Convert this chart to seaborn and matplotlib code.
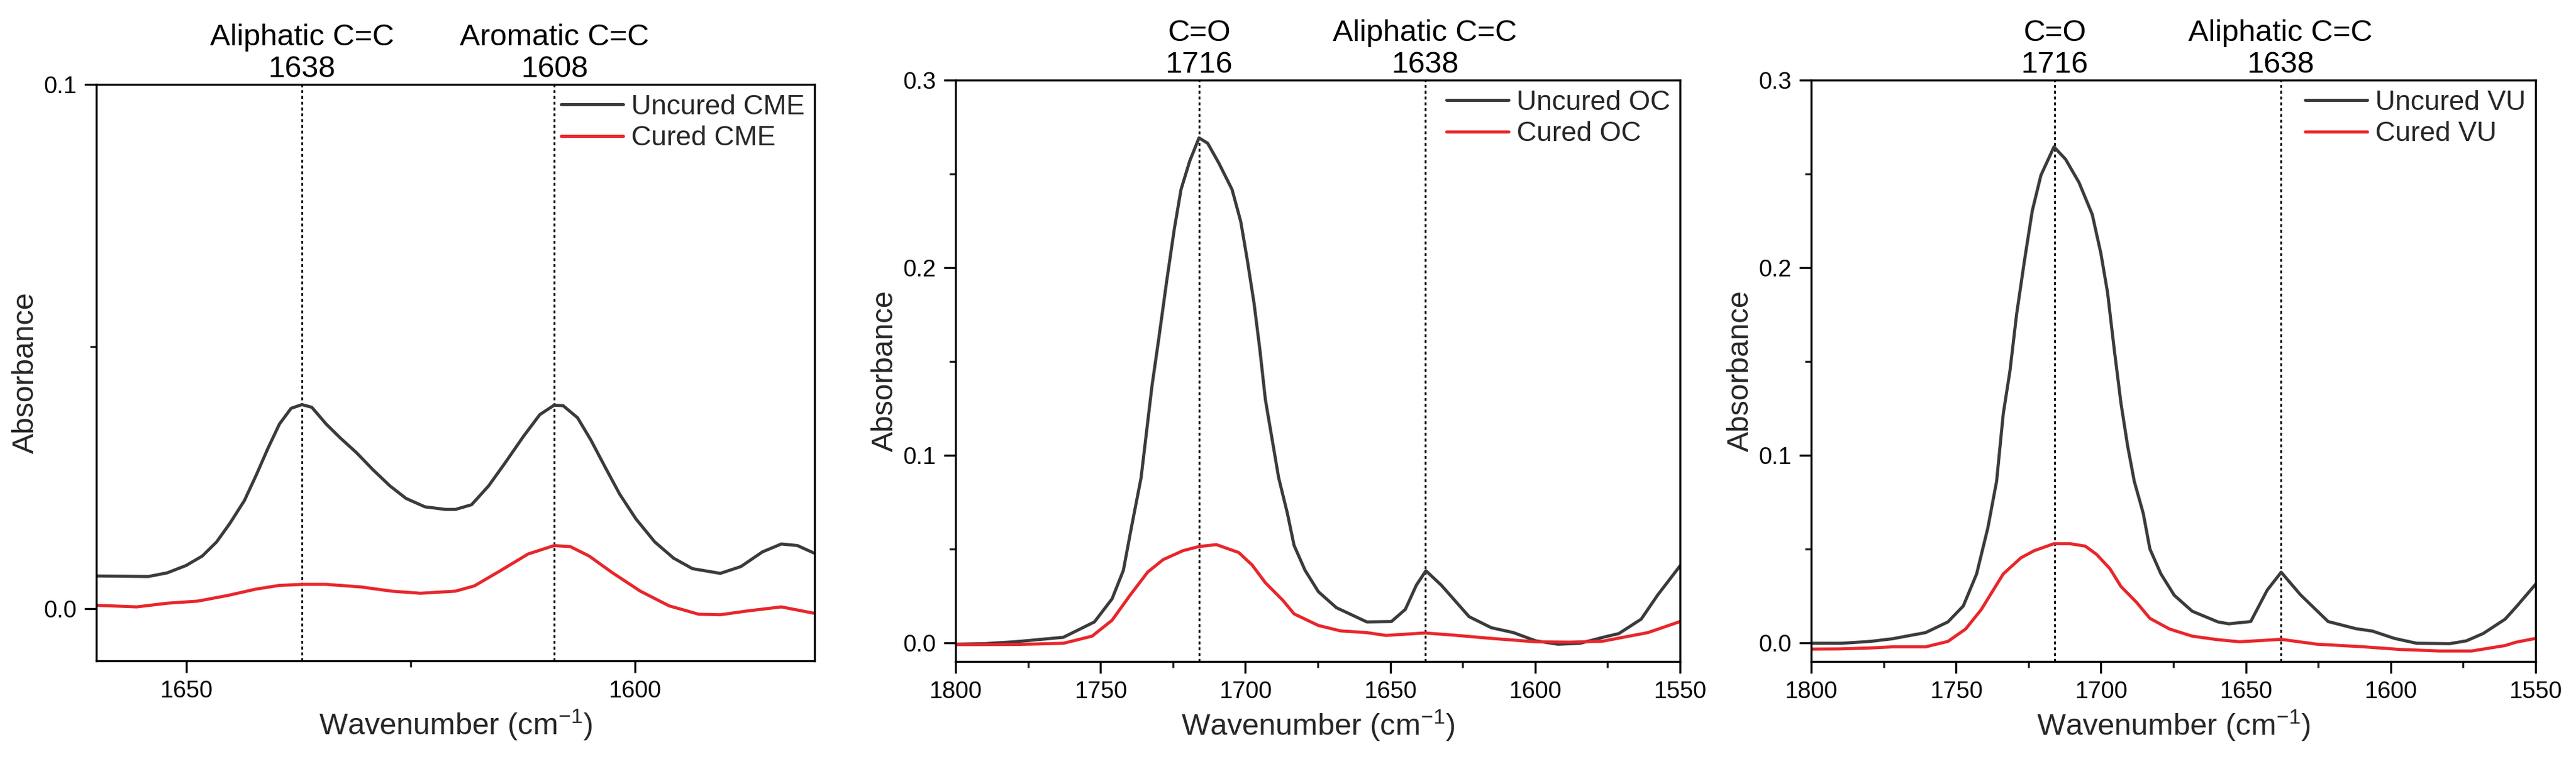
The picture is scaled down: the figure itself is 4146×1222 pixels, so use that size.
import numpy as np
import pandas as pd
import matplotlib
matplotlib.use("Agg")
import matplotlib.pyplot as plt
import seaborn as sns

# ---------------- data ----------------
# Panel 1 : CME
cme_wn_uncured = [1659.95, 1654.2, 1652.1, 1650.0, 1648.2, 1646.6, 1645.1, 1643.5, 1642.2, 1640.9,
                  1639.6, 1638.3, 1637.1, 1636.0, 1634.4, 1632.8, 1631.0, 1629.2, 1627.3, 1625.5,
                  1623.4, 1621.1, 1620.0, 1618.2, 1616.3, 1614.5, 1612.4, 1610.6, 1609.0, 1608.0,
                  1606.4, 1604.9, 1603.3, 1601.7, 1599.9, 1597.8, 1595.7, 1593.6, 1590.5, 1588.2,
                  1585.8, 1583.7, 1581.9, 1580.1]
cme_uncured = [0.0062, 0.0061, 0.0068, 0.0082, 0.0100, 0.0127, 0.0163, 0.0206, 0.0254, 0.0305,
               0.0352, 0.0382, 0.0389, 0.0384, 0.0352, 0.0325, 0.0297, 0.0265, 0.0234, 0.0210,
               0.0194, 0.0189, 0.0189, 0.0198, 0.0234, 0.0277, 0.0329, 0.0370, 0.0388, 0.0387,
               0.0364, 0.0321, 0.0269, 0.0218, 0.0171, 0.0127, 0.0096, 0.0076, 0.0067, 0.0080,
               0.0108, 0.0123, 0.0120, 0.0106]
cme_wn_cured = [1660.0, 1655.5, 1652.1, 1648.7, 1645.3, 1642.2, 1639.6, 1637.0, 1634.4, 1630.5,
                1627.1, 1623.9, 1620.0, 1617.9, 1615.0, 1611.9, 1609.0, 1607.2, 1605.1, 1602.5,
                1599.4, 1596.2, 1592.9, 1590.5, 1587.6, 1583.7, 1580.1]
cme_cured = [0.0006, 0.0003, 0.0010, 0.0014, 0.0025, 0.0037, 0.0044, 0.0046, 0.0046, 0.0041,
             0.0033, 0.0029, 0.0033, 0.0043, 0.0072, 0.0104, 0.0120, 0.0118, 0.0100, 0.0068,
             0.0033, 0.0005, -0.0011, -0.0012, -0.0005, 0.0003, -0.0009]

# Panel 2 : OC
oc_wn_uncured = [1800.0, 1790.0, 1781.8, 1778.1, 1762.8, 1752.1, 1746.0, 1742.1, 1739.1, 1736.0,
                 1734.1, 1732.2, 1729.9, 1727.2, 1724.5, 1722.2, 1719.2, 1716.0, 1713.0, 1709.2,
                 1704.6, 1701.6, 1699.3, 1697.0, 1695.0, 1693.1, 1690.8, 1688.5, 1685.5, 1683.2,
                 1679.4, 1674.8, 1668.6, 1658.1, 1649.6, 1644.8, 1641.0, 1637.7, 1632.4, 1622.8,
                 1615.1, 1607.5, 1599.8, 1592.1, 1584.5, 1576.8, 1571.1, 1563.4, 1557.7, 1550.0]
oc_uncured = [-0.0008, -0.0005, 0.0003, 0.0007, 0.0029, 0.0111, 0.0234, 0.0386, 0.0633, 0.0879,
              0.1126, 0.1373, 0.1620, 0.1923, 0.2208, 0.2417, 0.2569, 0.2692, 0.2663, 0.2559,
              0.2417, 0.2246, 0.2037, 0.1809, 0.1563, 0.1297, 0.1088, 0.0879, 0.0690, 0.0519,
              0.0386, 0.0272, 0.0187, 0.0111, 0.0113, 0.0178, 0.0307, 0.0384, 0.0307, 0.0139,
              0.0080, 0.0054, 0.0010, -0.0008, -0.0003, 0.0028, 0.0049, 0.0126, 0.0255, 0.0410]
oc_wn_cured = [1800.0, 1791.4, 1778.1, 1762.8, 1752.9, 1746.0, 1739.8, 1733.7, 1728.4, 1721.5,
               1716.0, 1710.0, 1702.3, 1697.7, 1693.1, 1687.0, 1683.2, 1674.8, 1667.1, 1658.1,
               1651.5, 1638.1, 1628.5, 1615.1, 1599.8, 1588.3, 1576.8, 1561.1, 1550.0]
oc_cured = [-0.0010, -0.0010, -0.0009, -0.0003, 0.0035, 0.0120, 0.0253, 0.0377, 0.0443, 0.0491,
            0.0513, 0.0523, 0.0481, 0.0415, 0.0320, 0.0225, 0.0154, 0.0092, 0.0063, 0.0054,
            0.0039, 0.0052, 0.0041, 0.0023, 0.0005, 0.0003, 0.0008, 0.0054, 0.0113]

# Panel 3 : VU
vu_wn_uncured = [1800.0, 1789.5, 1779.6, 1772.0, 1760.5, 1752.8, 1747.5, 1742.9, 1739.0, 1736.0,
                 1733.7, 1731.4, 1729.1, 1726.4, 1723.7, 1720.7, 1716.2, 1712.2, 1707.6, 1703.0,
                 1700.0, 1697.7, 1695.4, 1693.1, 1690.8, 1688.5, 1685.4, 1683.1, 1679.3, 1674.7,
                 1668.5, 1659.6, 1655.9, 1648.3, 1642.6, 1637.8, 1631.1, 1621.6, 1612.0, 1606.3,
                 1598.7, 1591.0, 1579.6, 1573.9, 1568.1, 1560.5, 1556.7, 1550.0]
vu_uncured = [-0.0003, -0.0003, 0.0007, 0.0021, 0.0054, 0.0111, 0.0196, 0.0367, 0.0614, 0.0861,
              0.1221, 0.1449, 0.1752, 0.2037, 0.2303, 0.2493, 0.2644, 0.2578, 0.2455, 0.2284,
              0.2075, 0.1866, 0.1563, 0.1278, 0.1050, 0.0861, 0.0690, 0.0500, 0.0367, 0.0253,
              0.0168, 0.0111, 0.0101, 0.0113, 0.0281, 0.0376, 0.0255, 0.0113, 0.0075, 0.0062,
              0.0023, -0.0003, -0.0005, 0.0010, 0.0049, 0.0126, 0.0191, 0.0312]
vu_wn_cured = [1800.0, 1790.0, 1779.6, 1772.0, 1760.5, 1752.8, 1746.7, 1741.3, 1733.7, 1727.6,
               1723.0, 1716.2, 1710.7, 1705.4, 1701.5, 1696.9, 1693.1, 1687.7, 1683.1, 1676.3,
               1668.5, 1659.6, 1652.1, 1637.8, 1625.4, 1610.1, 1596.7, 1583.4, 1572.0, 1560.5,
               1556.7, 1550.0]
vu_cured = [-0.0034, -0.0033, -0.0028, -0.0022, -0.0022, 0.0007, 0.0073, 0.0177, 0.0367, 0.0453,
            0.0491, 0.0528, 0.0528, 0.0515, 0.0471, 0.0395, 0.0300, 0.0215, 0.0130, 0.0073,
            0.0035, 0.0016, 0.0005, 0.0018, -0.0008, -0.0021, -0.0036, -0.0044, -0.0044, -0.0015,
            0.0003, 0.0023]

panel_labels = [("Uncured CME", "Cured CME"), ("Uncured OC", "Cured OC"), ("Uncured VU", "Cured VU")]
peak_labels = [["1638", "1608"], ["1716", "1638"], ["1716", "1638"]]
peak_lines = [[1637.1, 1609.0], [1716, 1638], [1716, 1638]]
peak_names = [["Aliphatic C=C", "Aromatic C=C"], ["C=O", "Aliphatic C=C"], ["C=O", "Aliphatic C=C"]]
xlims = [(1660, 1580), (1800, 1550), (1800, 1550)]
ylims = [(-0.01, 0.1), (-0.01, 0.3), (-0.01, 0.3)]

series = [
    (cme_wn_uncured, cme_uncured, cme_wn_cured, cme_cured),
    (oc_wn_uncured, oc_uncured, oc_wn_cured, oc_cured),
    (vu_wn_uncured, vu_uncured, vu_wn_cured, vu_cured),
]

# ---------------- style ----------------
sns.set_theme(style="ticks")
plt.rcParams["font.family"] = ["Liberation Sans", "DejaVu Sans"]
plt.rcParams["mathtext.fontset"] = "custom"
plt.rcParams["mathtext.rm"] = "Liberation Sans"
plt.rcParams["mathtext.it"] = "Liberation Sans:italic"
plt.rcParams["axes.linewidth"] = 0.8
plt.rcParams["axes.edgecolor"] = "black"

GRAY = "#3b3b3b"
RED = "#e8262b"

fig = plt.figure(figsize=(4146 / 300, 1222 / 300), dpi=300)
fig.patch.set_facecolor("white")

rects = [
    (155 / 4146, 158 / 1222, 1156 / 4146, 928 / 1222),
    (1538 / 4146, 157 / 1222, 1166 / 4146, 936 / 1222),
    (2915 / 4146, 157 / 1222, 1166 / 4146, 936 / 1222),
]

for i in range(3):
    ax = fig.add_axes(rects[i])
    wu, yu, wc, yc = series[i]
    du = pd.DataFrame({"wn": wu, "abs": yu})
    dc = pd.DataFrame({"wn": wc, "abs": yc})
    sns.lineplot(data=du, x="wn", y="abs", color=GRAY, lw=1.2, ax=ax, label=panel_labels[i][0])
    sns.lineplot(data=dc, x="wn", y="abs", color=RED, lw=1.2, ax=ax, label=panel_labels[i][1])

    ax.set_xlim(*xlims[i])
    ax.set_ylim(*ylims[i])

    for p, lab, name in zip(peak_lines[i], peak_labels[i], peak_names[i]):
        ax.axvline(p, color="black", lw=0.7, ls=(0, (1.6, 1.6)), zorder=1)
        ax.annotate(lab, xy=(p, 1.0), xycoords=("data", "axes fraction"),
                    xytext=(0, 2.8), textcoords="offset points",
                    ha="center", va="baseline", fontsize=11.7, color="black")
        ax.annotate(name, xy=(p, 1.0), xycoords=("data", "axes fraction"),
                    xytext=(0, 15.2), textcoords="offset points",
                    ha="center", va="baseline", fontsize=11.7, color="black")

    ax.xaxis.set_major_locator(matplotlib.ticker.MultipleLocator(50))
    ax.xaxis.set_minor_locator(matplotlib.ticker.MultipleLocator(25))
    ax.yaxis.set_major_locator(matplotlib.ticker.MultipleLocator(0.1))
    ax.yaxis.set_minor_locator(matplotlib.ticker.MultipleLocator(0.05))
    ax.xaxis.set_major_formatter(matplotlib.ticker.FormatStrFormatter("%d"))
    ax.yaxis.set_major_formatter(matplotlib.ticker.FormatStrFormatter("%.1f"))
    ax.tick_params(axis="both", which="major", direction="out", length=4.5, width=0.8,
                   labelsize=9.2, colors="black", pad=3)
    ax.tick_params(axis="both", which="minor", direction="out", length=2.3, width=0.8)
    ax.tick_params(top=False, right=False, which="both")
    for s in ax.spines.values():
        s.set_visible(True)
        s.set_color("black")
        s.set_linewidth(0.8)

    ax.set_xlabel("Wavenumber (cm$^{-1}$)", fontsize=11.7, labelpad=2)
    ax.set_ylabel("Absorbance", fontsize=11.7, labelpad=1.5)

    leg = ax.legend(loc="upper right", bbox_to_anchor=(1.0, 1.0), frameon=False,
                    fontsize=10.7, handlelength=2.25, handletextpad=0.3,
                    labelspacing=0.22, borderaxespad=0.15, borderpad=0.2)
    for line in leg.get_lines():
        line.set_linewidth(1.2)

fig.savefig("out.png", dpi=300, facecolor="white")
